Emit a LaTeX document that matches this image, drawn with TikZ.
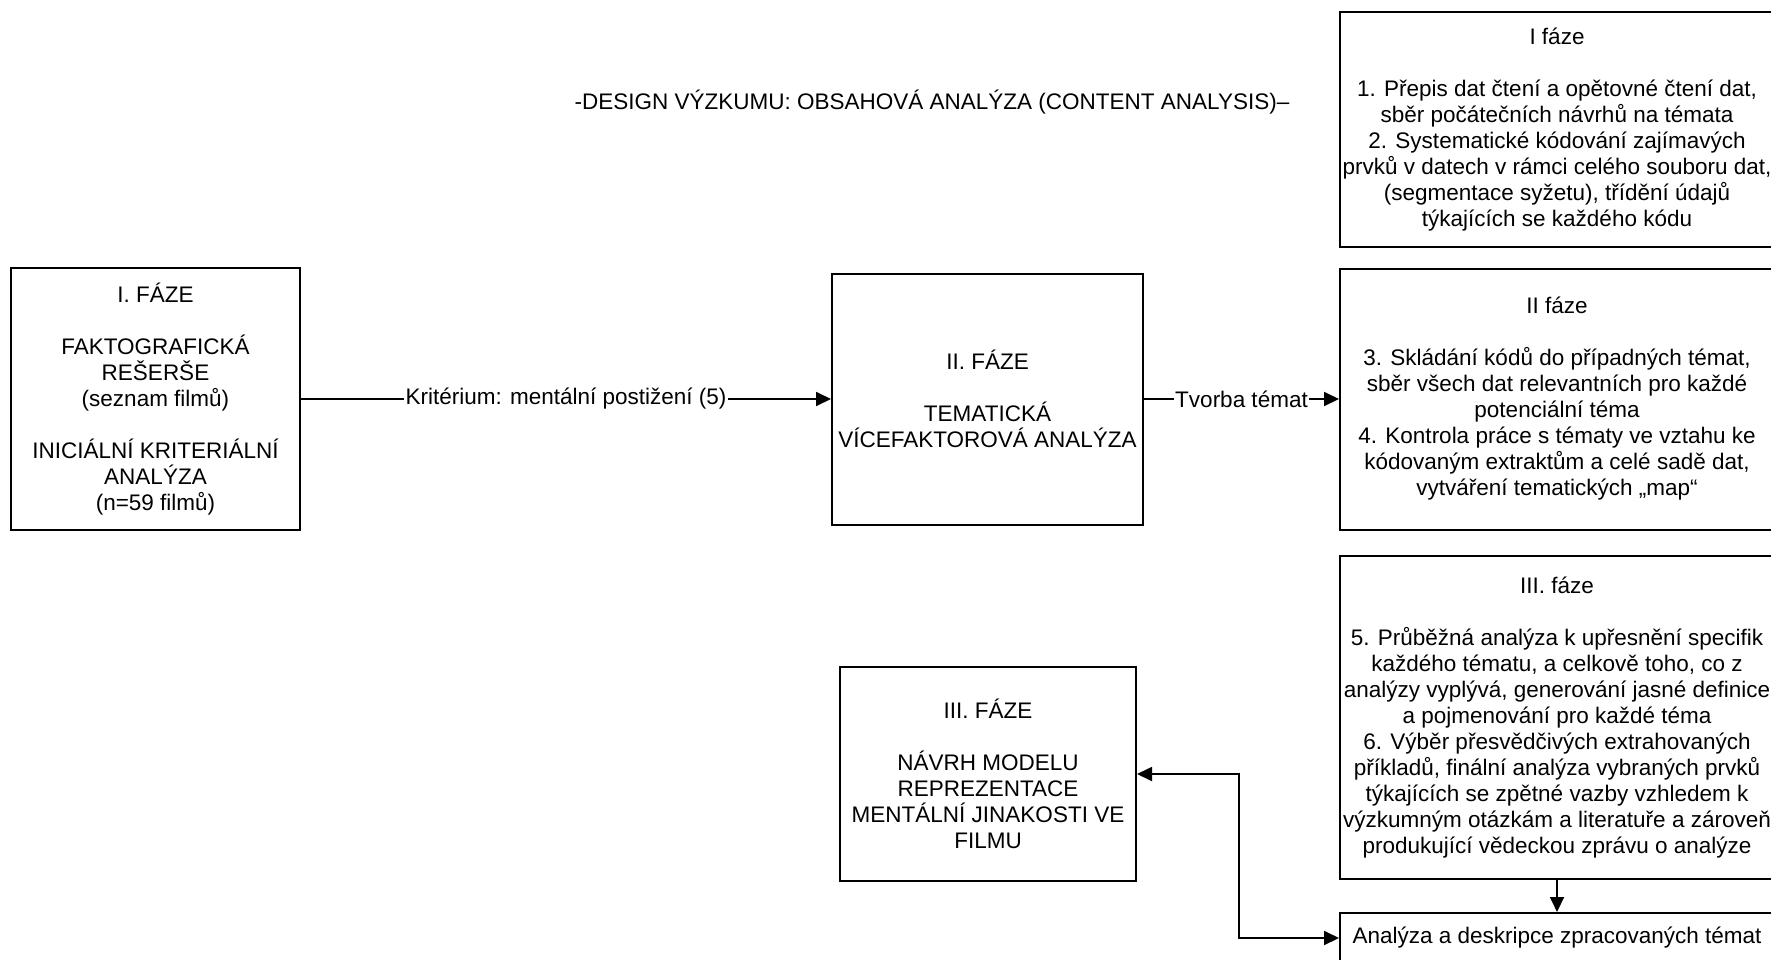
\documentclass[tikz,border=0pt]{standalone}
\usepackage{fontspec}
\setmainfont{Liberation Sans}
\usetikzlibrary{arrows.meta}
\tikzset{
  box/.style={draw, line width=1pt, align=center, inner sep=0pt,
    font=\fontsize{11.25}{13}\selectfont},
  lbl/.style={fill=white, inner sep=0.6pt, font=\fontsize{11.25}{13}\selectfont},
  conn/.style={line width=0.9pt, -{Triangle[length=7.5pt,width=7pt]}},
  biconn/.style={line width=0.9pt, {Triangle[length=7.5pt,width=7pt]}-{Triangle[length=7.5pt,width=7pt]}},
}
\begin{document}
\begin{tikzpicture}[x=0.5pt,y=-0.5pt]
\clip (0,0) rectangle (1771,959);
\fill[white] (0,0) rectangle (1771,959);

\node[font=\fontsize{11.25}{13}\selectfont] (title) at (932,102)
  {-DESIGN VÝZKUMU: OBSAHOVÁ ANALÝZA (CONTENT ANALYSIS)–};

\node[box, minimum width=144.5pt, minimum height=131pt] (A) at (155.5,399)
  {I. FÁZE\\[13pt]FAKTOGRAFICKÁ\\REŠERŠE\\(seznam filmů)\\[13pt]INICIÁLNÍ KRITERIÁLNÍ\\ANALÝZA\\(n=59 filmů)};

\node[box, minimum width=155.5pt, minimum height=125.5pt] (B) at (987.5,399)
  {II. FÁZE\\[13pt]TEMATICKÁ\\VÍCEFAKTOROVÁ ANALÝZA};

\node[box, minimum width=148pt, minimum height=107pt] (C) at (988,774)
  {III. FÁZE\\[13pt]NÁVRH MODELU\\REPREZENTACE\\MENTÁLNÍ JINAKOSTI VE\\FILMU};

\node[box, minimum width=217pt, minimum height=117.5pt] (P1) at (1557,129.5)
  {I fáze\\[13pt]1. Přepis dat čtení a opětovné čtení dat,\\sběr počátečních návrhů na témata\\2. Systematické kódování zajímavých\\prvků v datech v rámci celého souboru dat,\\(segmentace syžetu), třídění údajů\\týkajících se každého kódu};

\node[box, minimum width=217pt, minimum height=130.5pt] (P2) at (1557,399)
  {II fáze\\[13pt]3. Skládání kódů do případných témat,\\sběr všech dat relevantních pro každé\\potenciální téma\\4. Kontrola práce s tématy ve vztahu ke\\kódovaným extraktům a celé sadě dat,\\vytváření tematických „map“};

\node[box, minimum width=217pt, minimum height=161.5pt] (P3) at (1557,717.5)
  {III. fáze\\[13pt]5. Průběžná analýza k upřesnění specifik\\každého tématu, a celkově toho, co z\\analýzy vyplývá, generování jasné definice\\a pojmenování pro každé téma\\6. Výběr přesvědčivých extrahovaných\\příkladů, finální analýza vybraných prvků\\týkajících se zpětné vazby vzhledem k\\výzkumným otázkám a literatuře a zároveň\\produkující vědeckou zprávu o analýze};

\node[box, minimum width=217pt, minimum height=25pt] (An) at (1557,938)
  {Analýza a deskripce zpracovaných témat};

\draw[conn] (A.east) -- node[lbl] {Kritérium: mentální postižení (5)} (A.east -| B.west);
\draw[conn] (B.east) -- node[lbl] {Tvorba témat} (B.east -| P2.west);
\draw[conn] (P3.south) -- (An.north);
\draw[biconn] (C.east) -- ++(102,0) |- (An.west);
\end{tikzpicture}
\end{document}
